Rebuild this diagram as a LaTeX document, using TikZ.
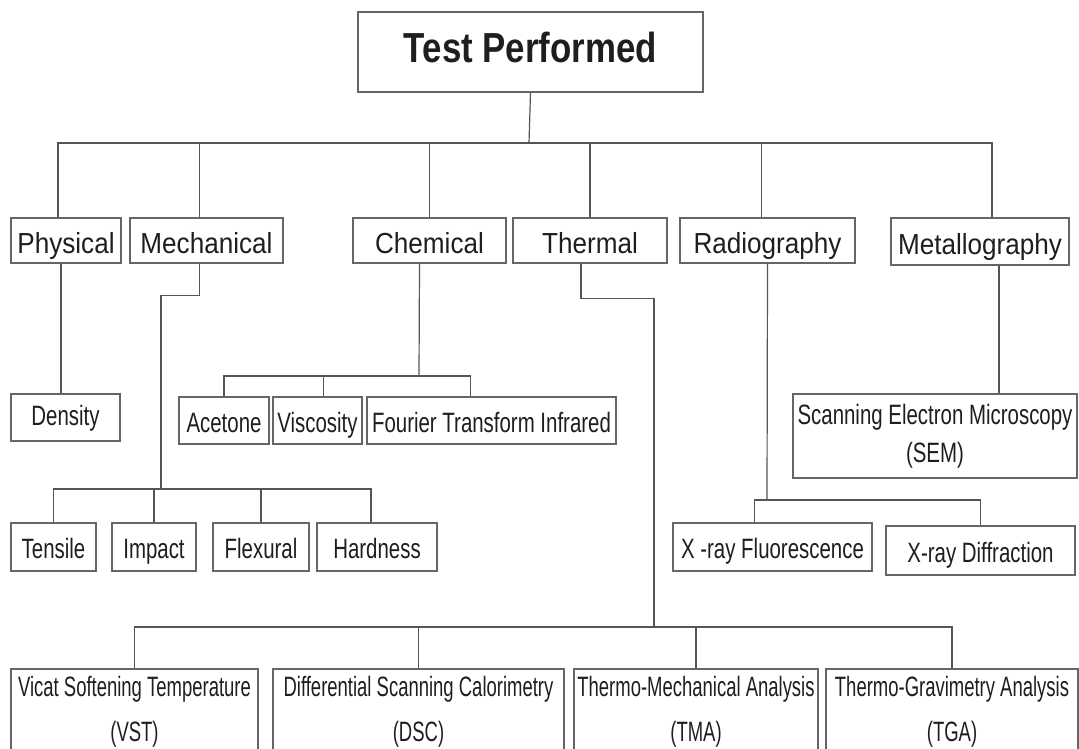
\documentclass[tikz,border=0pt]{standalone}
\usepackage{fontspec}
\setmainfont{Liberation Sans}
\newfontfamily\titlefont{Liberation Sans}[FakeStretch=0.83]
\newfontfamily\catfont{Liberation Sans}[FakeStretch=0.9]
\newfontfamily\testfont{Liberation Sans}[FakeStretch=0.73]
\newfontfamily\methfont{Liberation Sans}[FakeStretch=0.66]
\usepackage{tikz}
\definecolor{linegray}{HTML}{555555}
\definecolor{boxgray}{HTML}{666666}
\definecolor{textgray}{HTML}{1E1E1E}
\tikzset{
    box/.style={draw=boxgray, line width=1.3pt, inner sep=0pt, text=textgray},
    titlebox/.style={box, text height=30pt, text depth=8pt, font=\titlefont\fontsize{42}{48}\selectfont\bfseries},
    catbox/.style={box, minimum height=45pt, text height=27pt, text depth=2pt, font=\catfont\fontsize{29}{34}\selectfont},
    testbox/.style={box, minimum height=48pt, text height=25pt, text depth=2pt, font=\testfont\fontsize{28}{34}\selectfont},
    twoline/.style={box, align=center, font=\testfont\fontsize{28}{38}\selectfont},
    methbox/.style={box, minimum height=86pt, align=center, font=\methfont\fontsize{28}{45}\selectfont},
    link/.style={draw=linegray, line width=1.2pt},
}

\begin{document}
\begin{tikzpicture}[x=1pt, y=-1pt]
\useasboundingbox (0,0) rectangle (1079,749);
\clip (0,0) rectangle (1079,749);
% top
\node[titlebox, minimum width=345pt, minimum height=80pt] (test) at (530.5,52) {Test Performed};
% categories
\node[catbox, minimum width=110pt] (phys) at (66,240.5) {Physical};
\node[catbox, minimum width=153pt] (mech) at (206.5,240.5) {Mechanical};
\node[catbox, minimum width=153pt] (chem) at (429.5,240.5) {Chemical};
\node[catbox, minimum width=154pt] (therm) at (590,240.5) {Thermal};
\node[catbox, minimum width=175pt] (radio) at (767.5,240.5) {Radiography};
\node[catbox, minimum width=178pt, minimum height=47pt] (metal) at (980,241.5) {Metallography};
% tests
\node[testbox, minimum width=109pt, minimum height=47pt, text height=21pt, text depth=6pt] (dens) at (65.5,417.5) {Density};
\node[testbox, minimum width=90pt, minimum height=47pt] (acet) at (224,420.5) {Acetone};
\node[testbox, minimum width=89pt, minimum height=47pt] (visc) at (317.5,420.5) {Viscosity};
\node[testbox, minimum width=249pt, minimum height=47pt] (ftir) at (491.5,420.5) {Fourier Transform Infrared};
\node[testbox, minimum width=85pt] (tens) at (53.5,547) {Tensile};
\node[testbox, minimum width=84pt] (imp) at (154,547) {Impact};
\node[testbox, minimum width=96pt] (flex) at (261,547) {Flexural};
\node[testbox, minimum width=120pt] (hard) at (377,547) {Hardness};
\node[testbox, minimum width=199pt] (xrf) at (772.5,547) {X -ray Fluorescence};
\node[testbox, minimum width=189pt, minimum height=49pt] (xrd) at (980.5,550.5) {X-ray Diffraction};
\node[twoline, minimum width=284pt, minimum height=84pt] (sem) at (935,436) {Scanning Electron Microscopy\\(SEM)};
% thermal methods
\node[methbox, minimum width=247pt] (vst) at (134.5,712) {Vicat Softening Temperature\\(VST)};
\node[methbox, minimum width=291pt] (dsc) at (418.5,712) {Differential Scanning Calorimetry\\(DSC)};
\node[methbox, minimum width=244pt] (tma) at (696,712) {Thermo-Mechanical Analysis\\(TMA)};
\node[methbox, minimum width=252pt] (tga) at (952,712) {Thermo-Gravimetry Analysis\\(TGA)};

% junctions
\coordinate (j0) at (529,143);
\coordinate (j1) at (161,489);
\coordinate (j2) at (419,376);
\coordinate (j3) at (654,627);
\coordinate (j4) at (767,500);

\draw[link] (test.south) -- (j0);
\draw[link] ([xshift=-8pt]phys.north) |- (j0);
\draw[link] ([xshift=-7pt]mech.north) |- (j0);
\draw[link] (chem.north) |- (j0);
\draw[link] (therm.north) |- (j0);
\draw[link] ([xshift=-6pt]radio.north) |- (j0);
\draw[link] ([xshift=12pt]metal.north) |- (j0);

\draw[link] ([xshift=-5pt]phys.south) -- ([xshift=-5pt]phys.south |- dens.north);

\draw[link] ([xshift=-7pt]mech.south) -- ++(0,32) -| (j1);
\foreach \c in {tens,imp,flex} {
\draw[link] (\c.north) |- (j1);
}
\draw[link] ([xshift=-6pt]hard.north) |- (j1);

\draw[link] ([xshift=-10pt]chem.south) -- (j2);
\draw[link] (acet.north) |- (j2);
\draw[link] ([xshift=6pt]visc.north) |- (j2);
\draw[link] ([xshift=-21pt]ftir.north) |- (j2);

\draw[link] ([xshift=-9pt]therm.south) -- ++(0,35) -| (j3);
\foreach \c in {vst,dsc,tma,tga} {
\draw[link] (\c.north) |- (j3);
}

\draw[link] (radio.south) -- (j4);
\draw[link] ([xshift=-18pt]xrf.north) |- (j4);
\draw[link] (xrd.north) |- (j4);

\draw[link] ([xshift=19pt]metal.south) -- ([xshift=19pt]metal.south |- sem.north);
\end{tikzpicture}
\end{document}
